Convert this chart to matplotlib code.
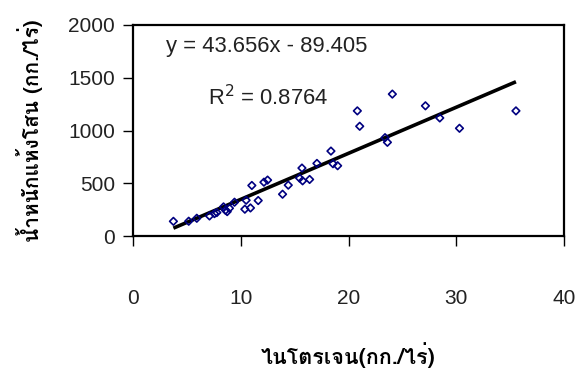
import matplotlib
matplotlib.use("Agg")
import matplotlib.pyplot as plt
import numpy as np

# Data
nitrogen = [3.75, 5.17, 5.92, 7.1, 7.56, 7.78, 8.4, 8.58, 8.74, 8.95, 9.42,
            10.38, 10.5, 10.9, 11.03, 11.62, 12.15, 12.49, 13.88, 14.41,
            15.46, 15.68, 15.74, 16.39, 17.07, 18.37, 18.56, 18.99, 20.82,
            21.04, 23.39, 23.61, 24.07, 27.14, 28.47, 30.3, 35.54]
dry_weight = [139, 140, 168, 190, 212, 222, 276, 244, 231, 263, 320,
              254, 339, 266, 479, 336, 510, 530, 396, 482,
              549, 644, 523, 536, 688, 805, 685, 666, 1186,
              1040, 932, 888, 1345, 1234, 1119, 1021, 1186]
slope = 43.656
intercept = -89.405
r_squared = 0.8764
x_ticks = [0, 10, 20, 30, 40]
y_ticks = [0, 500, 1000, 1500, 2000]
x_label = "ไนโตรเจน(กก./ไร่)"
y_label = "น้ำหนักแห้งโสน (กก./ไร่)"

thai = ["Loma", "Noto Sans Thai Looped", "DejaVu Sans"]
num = ["Liberation Sans", "DejaVu Sans"]

fig = plt.figure(figsize=(5.79, 3.79), dpi=100)
ax = fig.add_axes([133/579, 1 - 236/379, (564 - 133)/579, (236 - 25)/379])

ax.scatter(nitrogen, dry_weight, marker="D", s=15, facecolors="none",
           edgecolors="#000080", linewidths=1.2, zorder=3)
xs = np.array([min(nitrogen), max(nitrogen)])
ax.plot(xs, slope * xs + intercept, color="black", lw=2.6, zorder=2,
        solid_capstyle="butt")

ax.set_xlim(0, 40)
ax.set_ylim(0, 2000)
ax.set_xticks(x_ticks)
ax.set_yticks(y_ticks)
ax.tick_params(axis="both", direction="out", length=7, width=1,
               labelsize=15)
ax.tick_params(axis="x", pad=31)
ax.tick_params(axis="y", pad=6)
for lab in ax.get_xticklabels() + ax.get_yticklabels():
    lab.set_family(num)
    lab.set_color("#222222")
for s in ax.spines.values():
    s.set_linewidth(1.6)
    s.set_color("black")

ax.set_xlabel(x_label, family=thai, fontsize=15.5, fontweight="bold", labelpad=25)
ax.set_ylabel(y_label, family=thai, fontsize=15, fontweight="bold", labelpad=18)

eq = f"y = {slope}x - {abs(intercept)}"
ax.text(3.1, 1800, eq, family=num, fontsize=15.8, va="center", ha="left",
        color="#222222")
ax.text(7.0, 1310, f"R$^2$ = {r_squared}", family=num, fontsize=15.8,
        va="center", ha="left", color="#222222")

fig.savefig("out.png", dpi=100)
